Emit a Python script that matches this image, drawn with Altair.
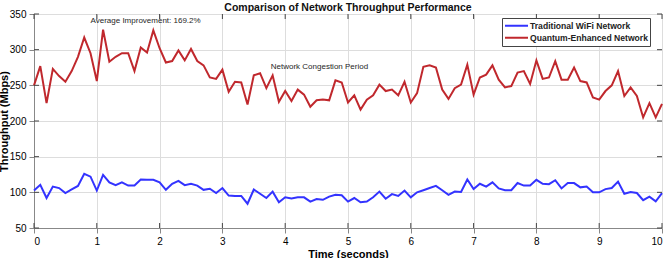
import altair as alt
import pandas as pd

# ---- data ----
time_s = [round(i * 0.1, 1) for i in range(101)]

wifi = [102.5, 110.5, 92, 108, 106, 99, 104, 109, 126, 122,
        102.5, 124.5, 114, 110, 114, 109.5, 109.5, 118, 117.5, 117.5,
        114, 103.5, 112, 116, 110, 112, 109.5, 103.5, 105, 99,
        106, 95.5, 95, 95, 84, 104, 98, 92, 101, 86,
        93, 91.5, 93, 93, 87, 90.5, 89.5, 94, 96.5, 96,
        87, 92, 86, 87, 93, 101, 91, 97.5, 95, 102.5,
        93, 100, 103, 106, 109, 103, 96.5, 101, 100.5, 118,
        104.5, 112, 108, 114, 105.5, 103, 103, 113, 109.5, 109.5,
        117.5, 112, 111.5, 117, 105.5, 113, 113, 107, 108, 100,
        100, 104.5, 106, 115, 98, 100.5, 99, 89, 94, 87.5,
        99]

quantum = [250, 277, 225, 273, 263, 255, 270, 290, 317, 295,
           256, 328, 283, 290, 295, 295, 270, 303, 296, 327,
           302, 282, 284, 299, 285, 301, 284, 278, 261, 259,
           272, 241, 255, 254, 223, 264, 267, 246, 264, 227,
           242, 228, 244, 237, 220, 229, 230, 229, 257, 254,
           226, 236, 216, 230, 236, 251, 242, 244, 236, 255,
           226, 239, 276, 278, 275, 244, 231, 246, 251, 279,
           237, 261, 265, 278, 258, 247, 249, 268, 270, 252,
           285, 259, 261, 284, 258, 258, 275, 256, 254, 233,
           230, 242, 250, 270, 235, 247, 235, 205, 225, 205,
           224]

series_names = ["Traditional WiFi Network", "Quantum-Enhanced Network"]
series_colors = ["#3333ff", "#c0282d"]

x_ticks = [0, 1, 2, 3, 4, 5, 6, 7, 8, 9, 10]
y_ticks = [50, 100, 150, 200, 250, 300, 350]

annot_text = ["Average Improvement: 169.2%", "Network Congestion Period"]
annot_x = [0.9, 3.77]
annot_y = [340, 276]

FONT = "Liberation Sans"
W, H = 628, 214

df = pd.DataFrame({
    "t": time_s * 2,
    "v": wifi + quantum,
    "s": [series_names[0]] * len(time_s) + [series_names[1]] * len(time_s),
})
xt = pd.DataFrame({"t": x_ticks})
yt = pd.DataFrame({"v": y_ticks})
ann = pd.DataFrame({"t": annot_x, "v": annot_y, "label": annot_text})

xscale = alt.Scale(domain=[0, 10], nice=False, zero=False)
yscale = alt.Scale(domain=[50, 350], nice=False, zero=False)
xaxis = alt.Axis(values=x_ticks, format="d", titlePadding=2, labelPadding=3,
                 labelOverlap=False)
yaxis = alt.Axis(values=y_ticks, titlePadding=0, labelPadding=3, labelOverlap=False)


def X():
    return alt.X("t:Q", scale=xscale, axis=xaxis, title="Time (seconds)")


def Y():
    return alt.Y("v:Q", scale=yscale, axis=yaxis, title="Throughput (Mbps)")


lines = alt.Chart(df).mark_line(strokeWidth=2).encode(
    x=X(), y=Y(),
    color=alt.Color("s:N", scale=alt.Scale(domain=series_names, range=series_colors),
                    sort=series_names,
                    legend=alt.Legend(title=None, orient="none", legendX=468, legendY=4,
                                      symbolType="stroke", symbolStrokeWidth=2,
                                      symbolSize=529, clipHeight=11.5,
                                      labelFont=FONT, labelFontSize=8.6,
                                      labelFontWeight="bold", labelColor="#222",
                                      strokeColor="#444", fillColor="white",
                                      padding=2, labelOffset=1, rowPadding=0)),
)

tick_bottom = alt.Chart(xt).mark_rule(color="#444", strokeWidth=1).encode(
    x=X(), y=alt.value(H), y2=alt.value(H - 5))
tick_top = alt.Chart(xt).mark_rule(color="#444", strokeWidth=1).encode(
    x=X(), y=alt.value(0), y2=alt.value(5))
tick_left = alt.Chart(yt).mark_rule(color="#444", strokeWidth=1).encode(
    y=Y(), x=alt.value(0), x2=alt.value(5))
tick_right = alt.Chart(yt).mark_rule(color="#444", strokeWidth=1).encode(
    y=Y(), x=alt.value(W), x2=alt.value(W - 5))

texts = alt.Chart(ann).mark_text(align="left", baseline="middle", font=FONT,
                                 fontSize=8, color="#262626").encode(
    x=X(), y=Y(), text="label:N")

chart = alt.layer(lines, tick_bottom, tick_top, tick_left, tick_right, texts).properties(
    width=W, height=H,
    title=alt.TitleParams("Comparison of Network Throughput Performance",
                          font=FONT, fontSize=10.5, fontWeight="bold", color="#111",
                          anchor="middle", baseline="bottom", offset=2, dy=16),
    autosize=alt.AutoSizeParams(type="none"),
    padding={"left": 34, "top": 14, "right": 7, "bottom": 30},
).configure_view(stroke="#444", strokeWidth=1).configure_axis(
    labelFont=FONT, labelFontSize=9.5, labelFontWeight="bold", labelColor="#262626",
    titleFont=FONT, titleFontSize=10.5, titleFontWeight="bold", titleColor="#111",
    grid=True, gridColor="#e3e3e3", gridWidth=1,
    domainColor="#444", domainWidth=1, ticks=False,
).configure(background="white")

chart.save("out.html", embed_options={"renderer": "svg", "actions": False})
